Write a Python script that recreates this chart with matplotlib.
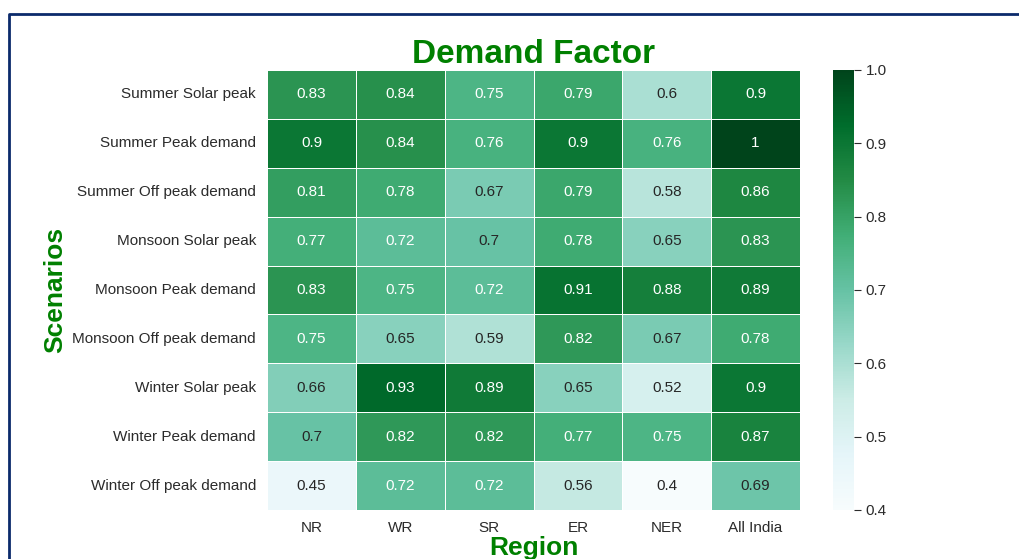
import numpy as np
import pandas as pd
import matplotlib
matplotlib.use('Agg')
import matplotlib.pyplot as plt
import seaborn as sns
from matplotlib.lines import Line2D

# data
scenarios = ['Summer Solar peak', 'Summer Peak demand', 'Summer Off peak demand',
             'Monsoon Solar peak', 'Monsoon Peak demand', 'Monsoon Off peak demand',
             'Winter Solar peak', 'Winter Peak demand', 'Winter Off peak demand']
regions = ['NR', 'WR', 'SR', 'ER', 'NER', 'All India']

summer_solar = [0.83, 0.84, 0.75, 0.79, 0.6, 0.9]
summer_peak = [0.9, 0.84, 0.76, 0.9, 0.76, 1]
summer_off = [0.81, 0.78, 0.67, 0.79, 0.58, 0.86]
monsoon_solar = [0.77, 0.72, 0.7, 0.78, 0.65, 0.83]
monsoon_peak = [0.83, 0.75, 0.72, 0.91, 0.88, 0.89]
monsoon_off = [0.75, 0.65, 0.59, 0.82, 0.67, 0.78]
winter_solar = [0.66, 0.93, 0.89, 0.65, 0.52, 0.9]
winter_peak = [0.7, 0.82, 0.82, 0.77, 0.75, 0.87]
winter_off = [0.45, 0.72, 0.72, 0.56, 0.4, 0.69]

df = pd.DataFrame([summer_solar, summer_peak, summer_off,
                   monsoon_solar, monsoon_peak, monsoon_off,
                   winter_solar, winter_peak, winter_off],
                  index=scenarios, columns=regions)

plt.rcParams['font.family'] = ['Liberation Sans', 'DejaVu Sans']
plt.rcParams['text.color'] = '#2b2b2b'
plt.rcParams['xtick.color'] = '#2b2b2b'
plt.rcParams['ytick.color'] = '#2b2b2b'

fig = plt.figure(figsize=(10.2, 5.59), dpi=100)
ax = fig.add_axes([0.2618, 0.0877, 0.5225, 0.7871])
cax = fig.add_axes([0.8167, 0.0877, 0.0206, 0.7871])

sns.heatmap(df, ax=ax, cbar_ax=cax, cmap='BuGn', vmin=0.4, vmax=1.0,
            annot=True, annot_kws={'fontsize': 11}, linewidths=0.7, linecolor='white')

ax.set_title('Demand Factor', fontsize=24, fontweight='bold', color='green', pad=2)
ax.set_xlabel('Region', fontsize=19, fontweight='bold', color='green', labelpad=1)
ax.set_ylabel('Scenarios', fontsize=19, fontweight='bold', color='green', labelpad=4)
ax.tick_params(axis='both', labelsize=11, length=0, pad=8)
plt.setp(ax.get_xticklabels(), rotation=0)
plt.setp(ax.get_yticklabels(), rotation=0)

cax.tick_params(labelsize=11, length=5)
cax.set_yticks([0.4, 0.5, 0.6, 0.7, 0.8, 0.9, 1.0])
for s in cax.spines.values():
    s.set_visible(False)

# dark frame around the figure (top and left edges visible)
fig.add_artist(Line2D([0.0093, 0.0093, 1.0], [0.0, 0.9758, 0.9758],
                      transform=fig.transFigure, color='#0b2a6b', linewidth=2))

fig.savefig('out.png', dpi=100)
